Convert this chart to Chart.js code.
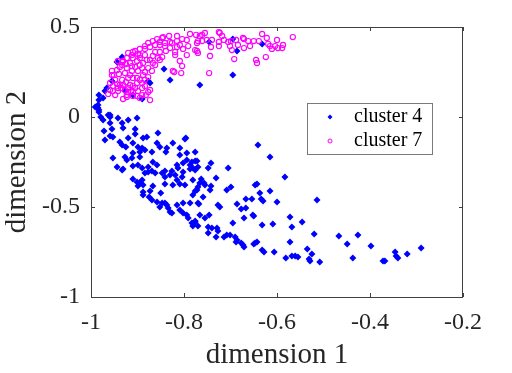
<!DOCTYPE html>
<html>
<head>
<meta charset="utf-8">
<script src="https://cdn.jsdelivr.net/npm/chart.js@4.4.1/dist/chart.umd.min.js"></script>
<style>
  html, body { margin: 0; padding: 0; background: #fff; }
  #wrap { width: 512px; height: 373px; }
</style>
</head>
<body>
<div id="wrap"><canvas id="chart" width="512" height="373"></canvas></div>
<script>
const seriesNames = ['cluster 4', 'cluster 7'];
const xTicks = [-1, -0.8, -0.6, -0.4, -0.2];
const xTickLabels = ['-1', '-0.8', '-0.6', '-0.4', '-0.2'];
const yTicks = [-1, -0.5, 0, 0.5];
const yTickLabels = ['-1', '-0.5', '0', '0.5'];
const xTitle = 'dimension 1';
const yTitle = 'dimension 2';

// cluster 4 points [dimension 1, dimension 2]
const cluster4 = [
  [-0.944,0.306],[-0.933,0.333],[-0.955,0.200],[-0.843,0.267],[-0.830,0.206],[-0.877,0.200],[-0.873,0.189],
  [-0.910,0.122],[-0.890,0.100],[-0.983,0.122],[-0.974,0.106],[-0.970,0.144],[-0.966,0.161],[-0.766,0.178],
  [-0.746,0.417],[-0.695,0.433],[-0.686,0.367],[-0.632,0.406],[-0.695,0.233],[-0.927,0.144],[-0.983,0.094],
  [-0.985,0.067],[-0.983,0.039],[-0.979,0.000],[-0.963,0.011],[-0.959,0.011],[-0.974,-0.017],[-0.942,-0.006],
  [-0.933,-0.033],[-0.920,-0.017],[-0.901,-0.006],[-0.856,-0.089],[-0.796,-0.117],[-0.991,0.056],[-0.985,0.050],
  [-0.983,0.028],[-0.959,0.000],[-0.959,-0.033],[-0.931,-0.061],[-0.972,-0.078],[-0.955,-0.067],[-0.905,-0.067],
  [-0.959,-0.106],[-0.953,-0.111],[-0.970,-0.128],[-0.938,-0.139],[-0.920,-0.117],[-0.905,-0.094],[-0.888,-0.117],
  [-0.880,-0.111],[-0.933,-0.156],[-0.925,-0.167],[-0.910,-0.144],[-0.899,-0.167],[-0.890,-0.172],[-0.858,-0.144],
  [-0.852,-0.167],[-0.824,-0.144],[-0.798,-0.122],[-0.910,-0.200],[-0.895,-0.194],[-0.884,-0.183],[-0.869,-0.194],
  [-0.837,-0.172],[-0.839,-0.194],[-0.809,-0.172],[-0.794,-0.200],[-0.776,-0.194],[-0.953,-0.228],[-0.927,-0.222],
  [-0.912,-0.228],[-0.895,-0.222],[-0.923,-0.239],[-0.899,-0.267],[-0.944,-0.278],[-0.931,-0.289],[-0.910,-0.272],
  [-0.890,-0.283],[-0.877,-0.278],[-0.867,-0.250],[-0.858,-0.267],[-0.869,-0.300],[-0.841,-0.300],[-0.815,-0.267],
  [-0.813,-0.283],[-0.802,-0.256],[-0.787,-0.267],[-0.772,-0.244],[-0.781,-0.283],[-0.802,-0.306],[-0.787,-0.289],
  [-0.826,-0.300],[-0.933,-0.294],[-0.910,-0.344],[-0.901,-0.361],[-0.895,-0.367],[-0.890,-0.350],[-0.888,-0.378],
  [-0.899,-0.383],[-0.867,-0.383],[-0.884,-0.311],[-0.877,-0.306],[-0.862,-0.311],[-0.847,-0.311],[-0.841,-0.333],
  [-0.830,-0.322],[-0.819,-0.322],[-0.804,-0.333],[-0.841,-0.372],[-0.824,-0.378],[-0.809,-0.372],[-0.798,-0.378],
  [-0.888,-0.417],[-0.873,-0.411],[-0.888,-0.433],[-0.850,-0.422],[-0.875,-0.444],[-0.869,-0.461],[-0.858,-0.472],
  [-0.847,-0.478],[-0.841,-0.478],[-0.852,-0.500],[-0.837,-0.489],[-0.834,-0.506],[-0.830,-0.528],[-0.826,-0.533],
  [-0.815,-0.489],[-0.802,-0.478],[-0.787,-0.478],[-0.809,-0.517],[-0.802,-0.533],[-0.794,-0.544],[-0.791,-0.561],
  [-0.783,-0.589],[-0.776,-0.583],[-0.770,-0.606],[-0.781,-0.433],[-0.770,-0.478],[-0.772,-0.406],[-0.766,-0.367],
  [-0.809,-0.211],[-0.794,-0.239],[-0.783,-0.250],[-0.742,-0.256],[-0.748,-0.283],[-0.705,-0.283],[-0.641,-0.156],
  [-0.615,-0.222],[-0.731,-0.339],[-0.763,-0.344],[-0.755,-0.378],[-0.815,-0.350],[-0.781,-0.350],[-0.770,-0.389],
  [-0.708,-0.406],[-0.699,-0.389],[-0.647,-0.378],[-0.637,-0.422],[-0.615,-0.411],[-0.667,-0.456],[-0.654,-0.456],
  [-0.634,-0.456],[-0.600,-0.472],[-0.727,-0.489],[-0.695,-0.589],[-0.652,-0.544],[-0.632,-0.600],[-0.609,-0.594],
  [-0.671,-0.561],[-0.667,-0.506],[-0.755,-0.561],[-0.766,-0.544],[-0.748,-0.611],[-0.740,-0.617],[-0.729,-0.617],
  [-0.748,-0.644],[-0.708,-0.656],[-0.714,-0.667],[-0.701,-0.656],[-0.690,-0.667],[-0.686,-0.683],[-0.673,-0.711],
  [-0.647,-0.700],[-0.632,-0.739],[-0.781,-0.606],[-0.776,-0.244],[-0.770,-0.278],[-0.776,-0.294],[-0.757,-0.367],
  [-0.744,-0.406],[-0.742,-0.383],[-0.643,-0.372],[-0.759,-0.444],[-0.776,-0.411],[-0.583,-0.333],[-0.768,-0.483],
  [-0.723,-0.500],[-0.686,-0.483],[-0.677,-0.511],[-0.630,-0.467],[-0.514,-0.461],[-0.746,-0.544],[-0.776,-0.578],
  [-0.727,-0.633],[-0.731,-0.667],[-0.688,-0.694],[-0.677,-0.700],[-0.671,-0.722],[-0.650,-0.550],[-0.572,-0.556],
  [-0.568,-0.611],[-0.546,-0.583],[-0.520,-0.650],[-0.572,-0.694],[-0.650,-0.706],[-0.643,-0.694],[-0.628,-0.750],
  [-0.606,-0.750],[-0.581,-0.783],[-0.568,-0.772],[-0.561,-0.772],[-0.555,-0.778],[-0.535,-0.733],[-0.525,-0.761],
  [-0.531,-0.789],[-0.529,-0.800],[-0.508,-0.806],[-0.467,-0.661],[-0.449,-0.706],[-0.426,-0.656],[-0.398,-0.717],
  [-0.437,-0.783],[-0.372,-0.800],[-0.368,-0.800],[-0.346,-0.750],[-0.344,-0.772],[-0.340,-0.783],[-0.320,-0.761],
  [-0.290,-0.728]
];

// cluster 7 points
const cluster7 = [
  [-0.774,0.456],[-0.761,0.456],[-0.755,0.467],[-0.751,0.428],[-0.761,0.422],[-0.770,0.422],[-0.740,0.428],
  [-0.725,0.472],[-0.718,0.450],[-0.725,0.417],[-0.725,0.394],[-0.714,0.428],[-0.705,0.417],[-0.699,0.422],
  [-0.701,0.394],[-0.697,0.372],[-0.688,0.428],[-0.684,0.400],[-0.671,0.433],[-0.671,0.383],[-0.662,0.422],
  [-0.658,0.394],[-0.650,0.422],[-0.639,0.422],[-0.632,0.461],[-0.622,0.439],[-0.615,0.394],[-0.611,0.378],
  [-0.600,0.428],[-0.598,0.383],[-0.589,0.383],[-0.587,0.400],[-0.566,0.444],[-0.742,0.389],[-0.770,0.356],
  [-0.744,0.339],[-0.692,0.322],[-0.645,0.317],[-0.643,0.300],[-0.624,0.333],[-0.746,0.244],[-0.619,0.406],
  [-0.604,0.394],[-0.673,0.439],
  [-0.832,0.450],[-0.847,0.439],[-0.858,0.433],[-0.867,0.422],[-0.841,0.411],[-0.826,0.411],[-0.815,0.422],
  [-0.804,0.433],[-0.794,0.428],[-0.772,0.411],[-0.802,0.378],[-0.815,0.389],[-0.839,0.367],[-0.830,0.383],
  [-0.794,0.344],[-0.772,0.367],[-0.809,0.311],[-0.804,0.283],[-0.824,0.256],[-0.806,0.244],[-0.869,0.256],
  [-0.877,0.272],[-0.867,0.339],[-0.856,0.328],[-0.880,0.317],[-0.888,0.300],[-0.895,0.344],[-0.884,0.378],
  [-0.873,0.389],[-0.895,0.378],[-0.905,0.367],[-0.912,0.344],[-0.923,0.328],[-0.931,0.311],[-0.916,0.300],
  [-0.901,0.311],[-0.923,0.272],[-0.933,0.289],[-0.944,0.261],[-0.951,0.233],[-0.940,0.239],[-0.927,0.244],
  [-0.912,0.256],[-0.899,0.256],[-0.888,0.233],[-0.948,0.206],[-0.933,0.206],[-0.920,0.217],[-0.901,0.217],
  [-0.931,0.178],[-0.916,0.178],[-0.901,0.189],[-0.890,0.161],[-0.953,0.172],[-0.942,0.144],[-0.927,0.150],
  [-0.923,0.122],[-0.899,0.144],[-0.890,0.122],[-0.905,0.161],[-0.963,0.128],[-0.953,0.144],[-0.931,0.100],
  [-0.914,0.144],[-0.890,0.189],[-0.873,0.094],[-0.895,0.106],[-0.910,0.172],[-0.938,0.178],[-0.959,0.189],
  [-0.955,0.256],[-0.942,0.311],
  [-0.923,0.111],[-0.910,0.117],[-0.942,0.161],[-0.821,0.250],[-0.867,0.300],[-0.847,0.333],[-0.776,0.372],
  [-0.723,0.467],[-0.766,0.450],[-0.787,0.461],[-0.815,0.450],[-0.845,0.444],[-0.877,0.411],[-0.884,0.394],
  [-0.910,0.361],[-0.920,0.356],[-0.933,0.306],[-0.955,0.233],
  [-0.884,0.344],[-0.873,0.317],[-0.862,0.361],[-0.852,0.400],[-0.895,0.328],[-0.912,0.283],[-0.890,0.272],
  [-0.920,0.161],[-0.884,0.206],[-0.877,0.139],[-0.910,0.217],[-0.925,0.194],[-0.862,0.289],[-0.852,0.361],
  [-0.819,0.344],
  [-0.938,0.278],[-0.925,0.294],[-0.910,0.328],[-0.899,0.350],[-0.862,0.400],[-0.852,0.417],[-0.916,0.233],
  [-0.905,0.278],[-0.895,0.289],[-0.884,0.250],[-0.877,0.222],[-0.944,0.183],[-0.935,0.161],[-0.910,0.139],
  [-0.901,0.117],[-0.882,0.122],[-0.959,0.150],[-0.948,0.122],[-0.920,0.139],[-0.873,0.150],[-0.884,0.172],
  [-0.895,0.206],[-0.841,0.394],[-0.830,0.417],[-0.819,0.361],[-0.809,0.400],[-0.791,0.394],[-0.852,0.317]
];

const SERIF = '"Liberation Serif", "Times New Roman", serif';
const INK = '#262626';

// box, inward ticks, axis titles and legend, MATLAB style
const framePlugin = {
  id: 'frame',
  afterDraw(chart) {
    const { ctx, chartArea: a, scales: { x, y } } = chart;
    ctx.save();
    ctx.strokeStyle = '#404040';
    ctx.lineWidth = 1;
    ctx.strokeRect(a.left + 0.5, a.top + 0.5, a.right - a.left - 1, a.bottom - a.top);

    const tl = 4;
    ctx.beginPath();
    xTicks.forEach(v => {
      const px = Math.round(x.getPixelForValue(v)) + 0.5;
      ctx.moveTo(px, a.bottom); ctx.lineTo(px, a.bottom - tl);
      ctx.moveTo(px, a.top); ctx.lineTo(px, a.top + tl);
    });
    yTicks.forEach(v => {
      const py = Math.round(y.getPixelForValue(v)) + 0.5;
      ctx.moveTo(a.left, py); ctx.lineTo(a.left + tl, py);
      ctx.moveTo(a.right, py); ctx.lineTo(a.right - tl, py);
    });
    ctx.stroke();

    // axis titles
    ctx.fillStyle = INK;
    ctx.font = '29px ' + SERIF;
    ctx.textAlign = 'center';
    ctx.textBaseline = 'alphabetic';
    ctx.fillText(xTitle, (a.left + a.right) / 2, 363);
    ctx.save();
    ctx.translate(25, (a.top + a.bottom) / 2);
    ctx.rotate(-Math.PI / 2);
    ctx.fillText(yTitle, 0, 0);
    ctx.restore();

    // legend
    const lx = 307, ly = 103, lw = 125, lh = 51;
    ctx.fillStyle = '#fff';
    ctx.fillRect(lx, ly, lw, lh);
    ctx.strokeStyle = '#7a7a7a';
    ctx.strokeRect(lx + 0.5, ly + 0.5, lw, lh);

    ctx.fillStyle = '#0000ff';
    ctx.beginPath();
    ctx.moveTo(330, 114.5); ctx.lineTo(332.5, 117); ctx.lineTo(330, 119.5); ctx.lineTo(327.5, 117);
    ctx.closePath();
    ctx.fill();

    ctx.strokeStyle = '#ff00ff';
    ctx.lineWidth = 1;
    ctx.beginPath();
    ctx.arc(330, 141, 2, 0, Math.PI * 2);
    ctx.stroke();

    ctx.fillStyle = '#000';
    ctx.font = '20px ' + SERIF;
    ctx.textAlign = 'left';
    ctx.fillText(seriesNames[0], 354, 122);
    ctx.fillText(seriesNames[1], 354, 146);
    ctx.restore();
  }
};

const toPoints = arr => arr.map(p => ({ x: p[0], y: p[1] }));

new Chart(document.getElementById('chart'), {
  type: 'scatter',
  data: {
    datasets: [
      {
        label: seriesNames[0],
        data: toPoints(cluster4),
        pointStyle: 'rectRot',
        pointRadius: 3.5,
        pointBorderWidth: 0,
        backgroundColor: '#0000ff',
        borderColor: '#0000ff',
        order: 1
      },
      {
        label: seriesNames[1],
        data: toPoints(cluster7),
        pointStyle: 'circle',
        pointRadius: 2.6,
        pointBorderWidth: 1.1,
        backgroundColor: 'rgba(0,0,0,0)',
        borderColor: '#ff00ff',
        order: 0
      }
    ]
  },
  options: {
    responsive: false,
    animation: false,
    devicePixelRatio: 1,
    layout: { padding: { top: 27, right: 49, left: 0, bottom: 0 } },
    plugins: {
      legend: { display: false },
      tooltip: { enabled: false }
    },
    scales: {
      x: {
        type: 'linear',
        min: -1,
        max: -0.2,
        grid: { display: false, drawTicks: false },
        border: { display: false },
        afterBuildTicks: s => { s.ticks = xTicks.map(v => ({ value: v })); },
        afterFit: s => { s.height = 76; },
        ticks: {
          padding: 11,
          maxRotation: 0,
          autoSkip: false,
          color: INK,
          font: { family: SERIF, size: 24 },
          callback: (v, i) => xTickLabels[i]
        }
      },
      y: {
        type: 'linear',
        min: -1,
        max: 0.5,
        grid: { display: false, drawTicks: false },
        border: { display: false },
        afterBuildTicks: s => { s.ticks = yTicks.map(v => ({ value: v })); },
        afterFit: s => { s.width = 91; },
        ticks: {
          padding: 11,
          autoSkip: false,
          color: INK,
          font: { family: SERIF, size: 24 },
          callback: (v, i) => yTickLabels[i]
        }
      }
    }
  },
  plugins: [framePlugin]
});
</script>
</body>
</html>
